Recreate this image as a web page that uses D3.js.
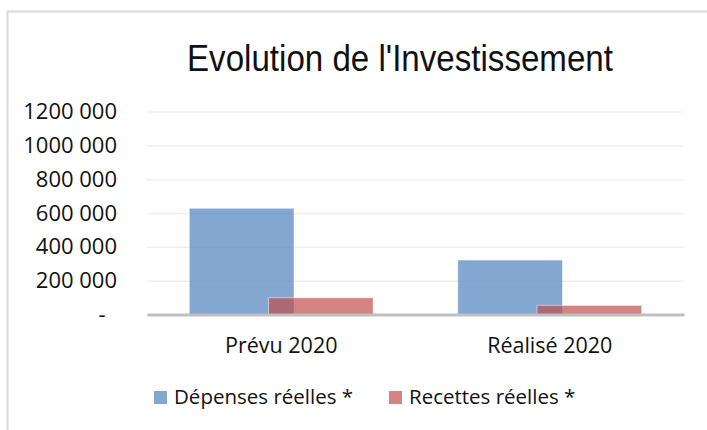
<!DOCTYPE html>
<html>
<head>
<meta charset="utf-8">
<script src="https://cdn.jsdelivr.net/npm/d3@7"></script>
<style>
  body { margin: 0; background: #fff; }
  text { font-family: "Open Sans", "Noto Sans", sans-serif; fill: #111; }
</style>
</head>
<body>
<script>
// données
var categories = ["Prévu 2020", "Réalisé 2020"];
var seriesNames = ["Dépenses réelles *", "Recettes réelles *"];
var depenses = [628000, 322000];
var recettes = [99000, 54000];
var yTicks = [0, 200000, 400000, 600000, 800000, 1000000, 1200000];
var yTickLabels = ["-\u00a0\u00a0", "200 000", "400 000", "600 000", "800 000", "1000 000", "1200 000"];

var W = 707, H = 430;
var LEFT = 147, RIGHT = 684, TOP = 111.5, BOTTOM = 314.5;
var colors = ["rgba(79,129,189,0.7)", "rgba(192,80,77,0.7)"];

var svg = d3.select("body").append("svg")
  .attr("width", W).attr("height", H);

// cadre du graphique
svg.append("path")
  .attr("d", "M7.5," + H + "V11.5H" + W)
  .attr("fill", "none")
  .attr("stroke", "#d9d9d9")
  .attr("stroke-width", 2);

// titre
svg.append("text")
  .attr("x", 400).attr("y", 71)
  .attr("text-anchor", "middle")
  .attr("textLength", 426)
  .attr("lengthAdjust", "spacingAndGlyphs")
  .style("font-family", "'Liberation Sans Narrow', 'Arial Narrow', 'Liberation Sans', Arial, sans-serif")
  .style("font-size", "36px")
  .text("Evolution de l'Investissement");

var xScale = d3.scaleBand().domain(categories).range([LEFT, RIGHT]).padding(0);
var yScale = d3.scaleLinear().domain([0, 1200000]).range([BOTTOM, TOP]);

// grille
var grid = svg.append("g")
  .attr("transform", "translate(" + LEFT + ",0)")
  .call(d3.axisLeft(yScale).tickValues(yTicks).tickSize(-(RIGHT - LEFT)).tickFormat(""));
grid.select(".domain").remove();
grid.selectAll("line").attr("stroke", "#efefef").attr("stroke-width", 1.5);

// axe Y
var yAxis = svg.append("g")
  .attr("transform", "translate(" + LEFT + ",0)")
  .call(d3.axisLeft(yScale).tickValues(yTicks).tickSize(0).tickPadding(30)
    .tickFormat(function (d, i) { return yTickLabels[i]; }));
yAxis.select(".domain").remove();
yAxis.selectAll("text").style("font-size", "22px").attr("fill", "#111");

// barres (chevauchement entre les séries)
var bw = xScale.bandwidth();
var barW = bw * 0.39;
var step = bw * 0.295;
var series = [depenses, recettes];
series.forEach(function (vals, s) {
  svg.append("g").selectAll("rect")
    .data(vals)
    .enter()
    .append("rect")
    .attr("x", function (d, i) {
      return xScale(categories[i]) + bw / 2 - (barW + step) / 2 + s * step;
    })
    .attr("y", function (d) { return yScale(d); })
    .attr("width", barW)
    .attr("height", function (d) { return BOTTOM - yScale(d); })
    .attr("fill", colors[s])
    .attr("stroke", "rgba(255,255,255,0.5)")
    .attr("stroke-width", 1);
});

// axe X
var xAxis = svg.append("g")
  .attr("transform", "translate(0," + BOTTOM + ")")
  .call(d3.axisBottom(xScale).tickSize(0).tickPadding(23));
xAxis.select(".domain").attr("stroke", "#bfbfbf").attr("stroke-width", 3);
xAxis.selectAll("text").style("font-size", "21.5px").attr("fill", "#111");

// légende
var legend = svg.append("g").selectAll("g")
  .data(seriesNames)
  .enter()
  .append("g")
  .attr("transform", function (d, i) { return "translate(" + (i === 0 ? 154 : 389) + ",391)"; });
legend.append("rect")
  .attr("width", 13).attr("height", 13)
  .attr("fill", function (d, i) { return colors[i]; });
legend.append("text")
  .attr("x", 20).attr("y", 12.5)
  .style("font-size", "20.5px")
  .text(function (d) { return d; });
</script>
</body>
</html>
